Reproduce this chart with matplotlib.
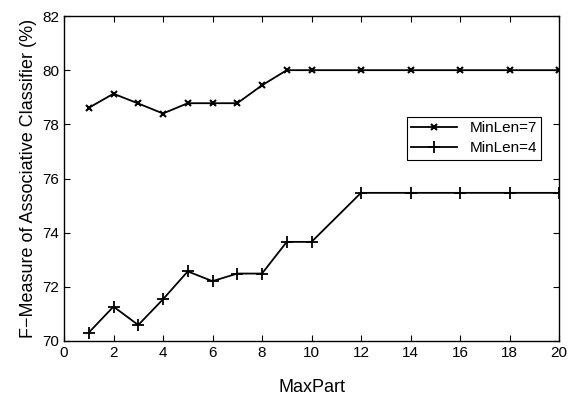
import matplotlib
matplotlib.use("Agg")
import matplotlib.pyplot as plt

plt.rcParams['font.family'] = ['Liberation Sans', 'DejaVu Sans']

maxpart = [1, 2, 3, 4, 5, 6, 7, 8, 9, 10, 12, 14, 16, 18, 20]
minlen7 = [78.61, 79.13, 78.77, 78.40, 78.78, 78.78, 78.78, 79.44, 80.0, 80.0, 80.0, 80.0, 80.0, 80.0, 80.0]
minlen4 = [70.31, 71.27, 70.59, 71.54, 72.57, 72.21, 72.49, 72.49, 73.66, 73.66, 75.47, 75.47, 75.47, 75.47, 75.47]
xticks = list(range(0, 21, 2))
yticks = list(range(70, 83, 2))

fig = plt.figure(figsize=(5.68, 4.04), dpi=100)
ax = fig.add_axes([64/568, 1-341/404, (559-64)/568, (341-16)/404])

ax.plot(maxpart, minlen7, color='black', marker='x', markersize=5, mew=1.5, lw=1.3, label='MinLen=7')
ax.plot(maxpart, minlen4, color='black', marker='+', markersize=9, mew=1.3, lw=1.3, label='MinLen=4')

ax.set_xlim(0, 20)
ax.set_ylim(70, 82)
ax.set_xticks(xticks)
ax.set_yticks(yticks)
ax.tick_params(direction='in', top=True, right=True, labelsize=11, length=4, width=0.8)
for s in ax.spines.values():
    s.set_linewidth(1.0)

ax.set_xlabel('MaxPart', fontsize=13, labelpad=14)
ax.set_ylabel('F\u2212Measure of Associative Classifier (%)', fontsize=13, labelpad=4)

leg = ax.legend(loc='upper left', bbox_to_anchor=((399-64)/495, 1-(109-16)/325),
                fontsize=11, frameon=True, fancybox=False, edgecolor='black',
                framealpha=1, handlelength=3, borderpad=0.3, labelspacing=0.4)
leg.get_frame().set_linewidth(0.8)

fig.savefig('out.png', dpi=100)
